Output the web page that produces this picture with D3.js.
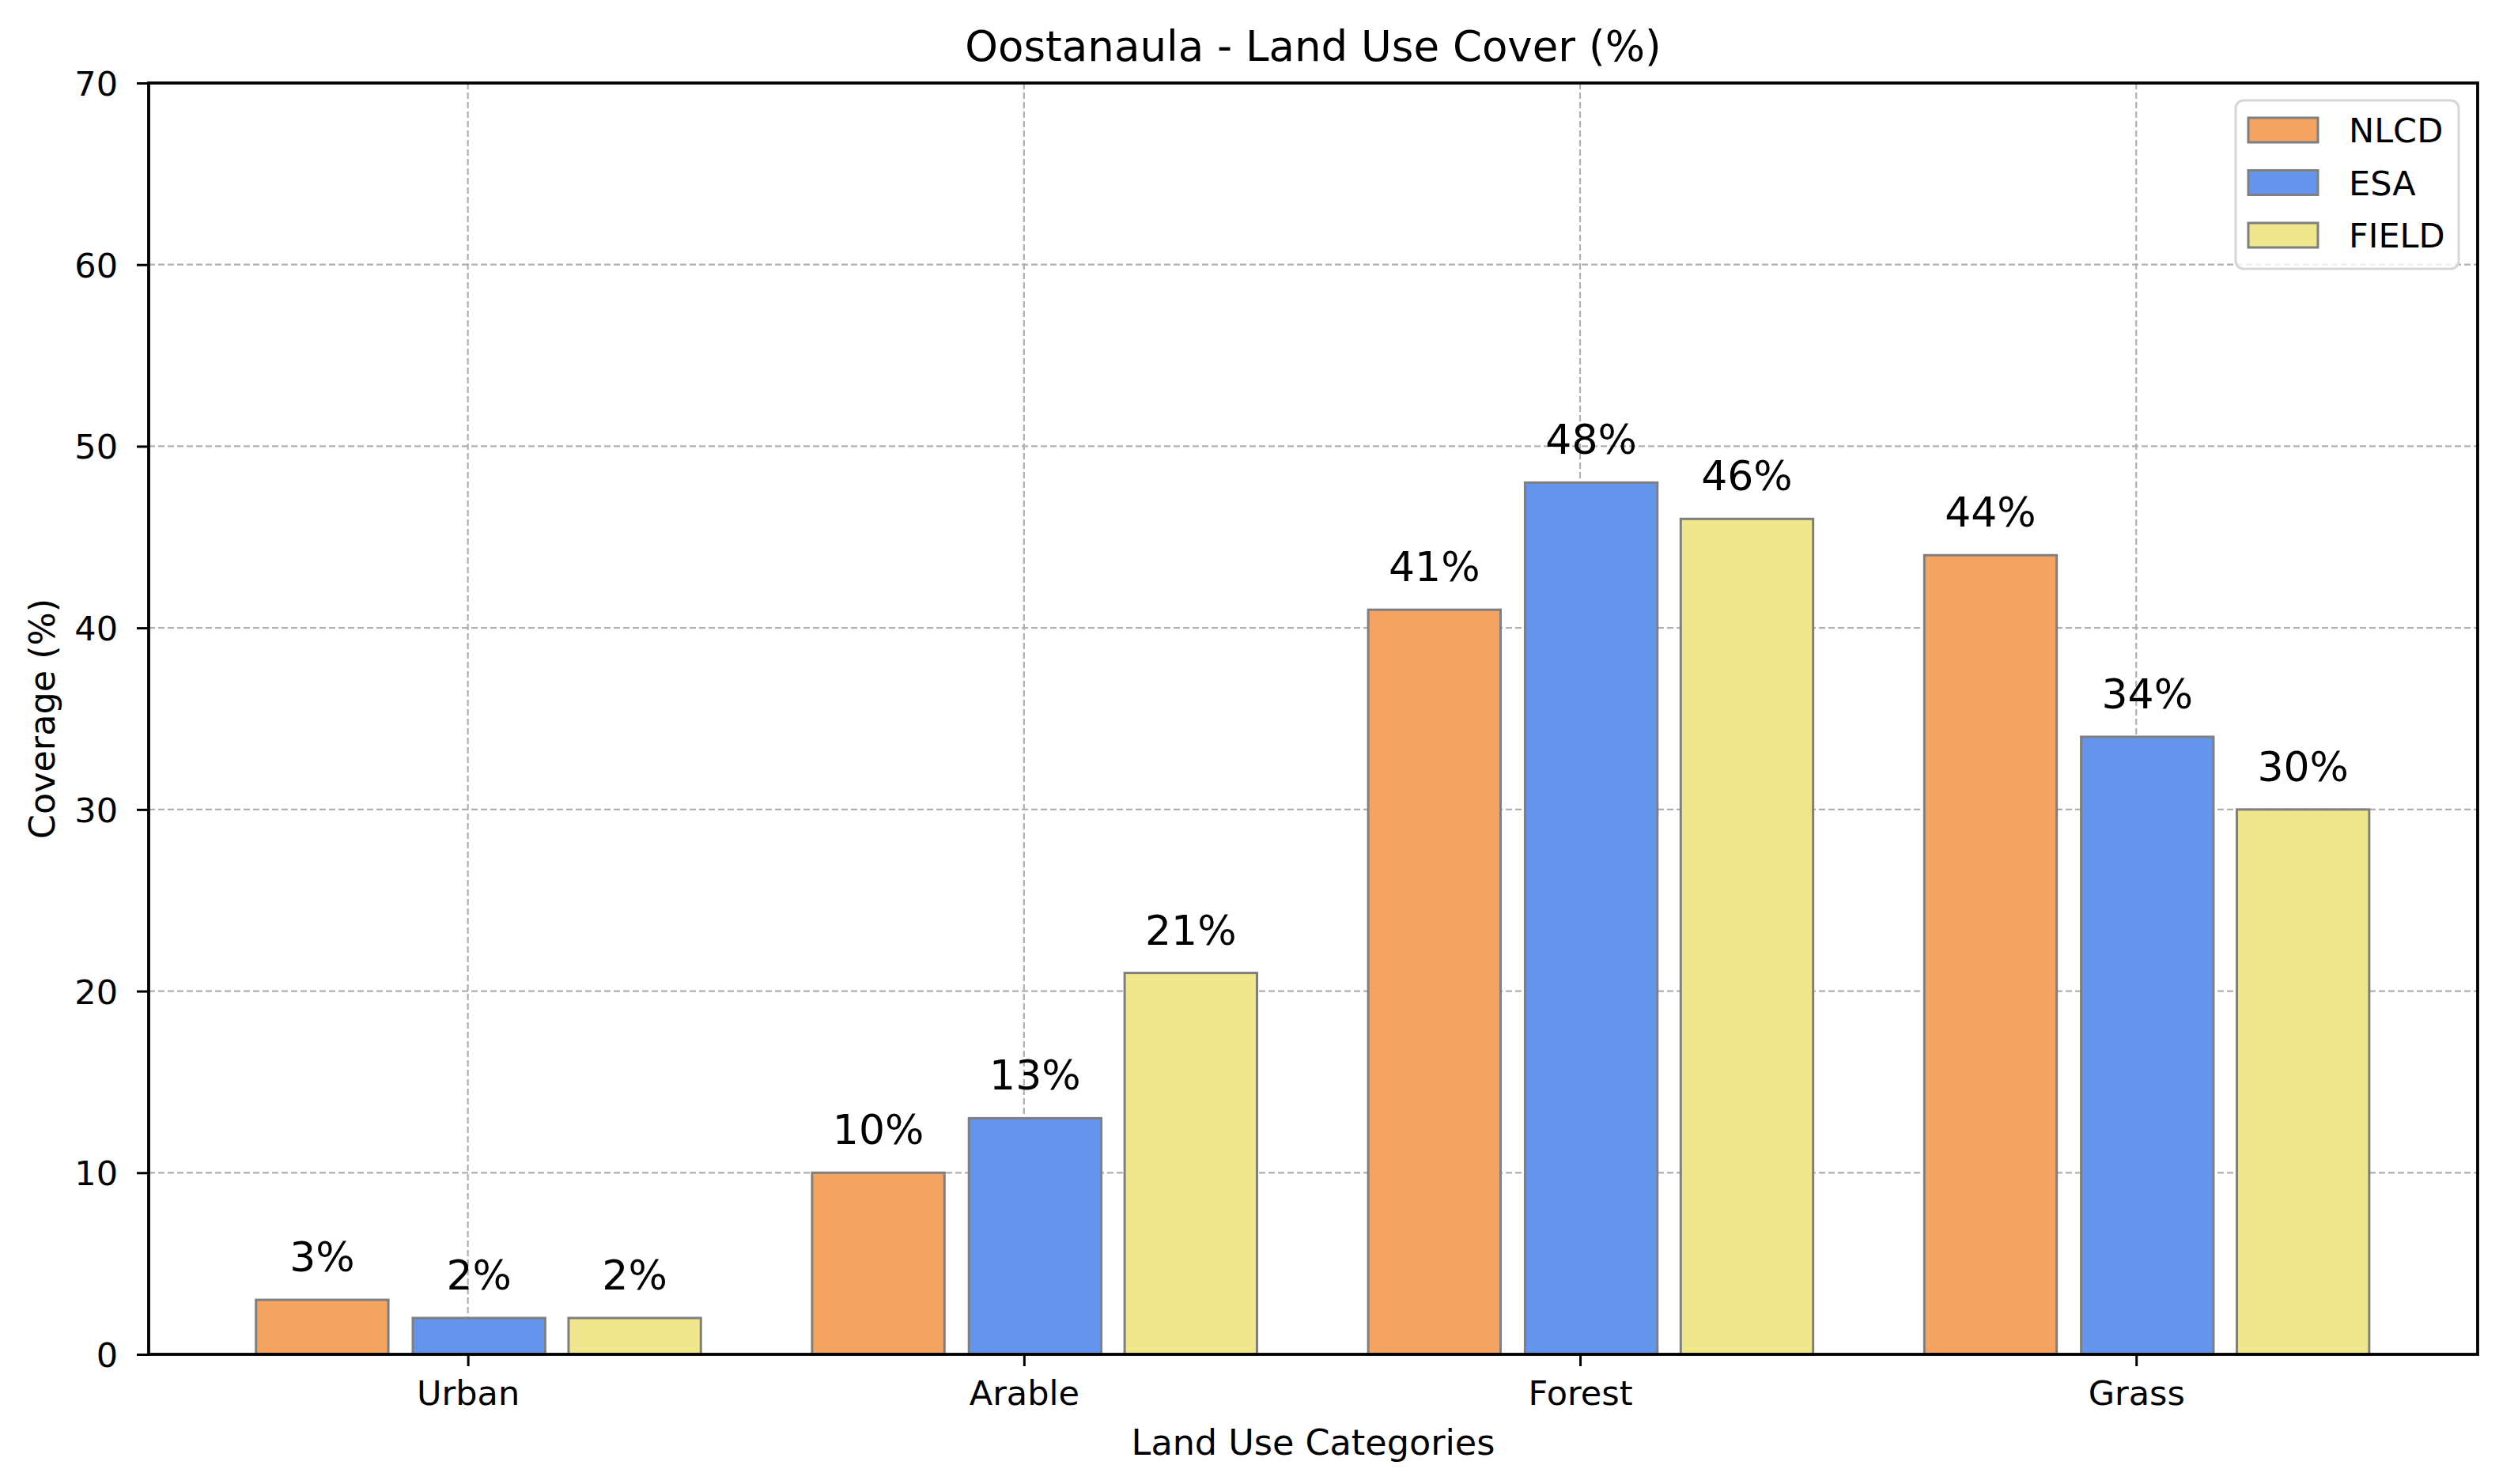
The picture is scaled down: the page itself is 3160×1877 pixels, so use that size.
<!DOCTYPE html>
<html>
<head>
<meta charset="utf-8">
<script src="https://cdn.jsdelivr.net/npm/d3@7"></script>
<style>
  html, body { margin: 0; padding: 0; background: #ffffff; }
  svg { display: block; font-family: "DejaVu Sans", sans-serif; }
</style>
</head>
<body>
<svg id="chart" width="3160" height="1877"></svg>
<script>
// ---- data ----
const categories = ["Urban", "Arable", "Forest", "Grass"];
const seriesNames = ["NLCD", "ESA", "FIELD"];
const nlcdValues = [3, 10, 41, 44];
const esaValues = [2, 13, 48, 34];
const fieldValues = [2, 21, 46, 30];
const yTicks = [0, 10, 20, 30, 40, 50, 60, 70];
const titleText = "Oostanaula - Land Use Cover (%)";
const xLabelText = "Land Use Categories";
const yLabelText = "Coverage (%)";

// ---- styles / layout ----
const colors = ["#F4A460", "#6495ED", "#F0E68C"];
const seriesOffsets = [-0.262, 0.020, 0.300];
const barWidth = 0.238;
const plot = { left: 188, right: 3133, top: 105, bottom: 1713 };

const svg = d3.select("#chart");
const x = d3.scaleLinear().domain([-0.574, 3.614]).range([plot.left, plot.right]);
const y = d3.scaleLinear().domain([0, 70]).range([plot.bottom, plot.top]);

const seriesValues = [nlcdValues, esaValues, fieldValues];
const series = seriesNames.map((name, s) => ({ name, values: seriesValues[s], color: colors[s], offset: seriesOffsets[s] }));

// white background
svg.append("rect").attr("x", 0).attr("y", 0).attr("width", 3160).attr("height", 1877).attr("fill", "#fff");

// grid
const grid = svg.append("g").attr("class", "grid");
grid.selectAll("line.h").data(yTicks.filter(t => t > 0 && t < 70)).enter().append("line")
  .attr("x1", plot.left).attr("x2", plot.right)
  .attr("y1", d => y(d)).attr("y2", d => y(d))
  .attr("stroke", "#b0b0b0").attr("stroke-width", 2.2).attr("stroke-dasharray", "8,4");
grid.selectAll("line.v").data(categories).enter().append("line")
  .attr("x1", (d, i) => x(i)).attr("x2", (d, i) => x(i))
  .attr("y1", plot.top).attr("y2", plot.bottom)
  .attr("stroke", "#b0b0b0").attr("stroke-width", 2.2).attr("stroke-dasharray", "8,4");

// bars
const barsG = svg.append("g").attr("class", "bars");
series.forEach(s => {
  const g = barsG.append("g");
  g.selectAll("rect").data(s.values).enter().append("rect")
    .attr("x", (d, i) => x(i + s.offset - barWidth / 2))
    .attr("width", x(barWidth) - x(0))
    .attr("y", d => y(d))
    .attr("height", d => y(0) - y(d))
    .attr("fill", s.color)
    .attr("stroke", "#7f7f7f")
    .attr("stroke-width", 3);
  g.selectAll("text").data(s.values).enter().append("text")
    .attr("x", (d, i) => x(i + s.offset))
    .attr("y", d => y(d) - 36)
    .attr("text-anchor", "middle")
    .attr("font-size", 52)
    .attr("fill", "#000")
    .text(d => d + "%");
});

// axes
const xAxis = d3.axisBottom(x).tickValues(d3.range(categories.length))
  .tickFormat(i => categories[i]).tickSize(15).tickPadding(12);
const yAxis = d3.axisLeft(y).tickValues(yTicks).tickSize(15).tickPadding(24);

const gx = svg.append("g").attr("transform", `translate(0,${plot.bottom})`).call(xAxis);
gx.select(".domain").remove();
gx.selectAll(".tick line").attr("stroke", "#000").attr("stroke-width", 3);
gx.selectAll(".tick text").attr("font-size", 43).attr("fill", "#000")
  .attr("font-family", "DejaVu Sans").attr("y", null).attr("dy", null)
  .attr("transform", "translate(0,64)");

const gy = svg.append("g").attr("transform", `translate(${plot.left},0)`).call(yAxis);
gy.select(".domain").remove();
gy.selectAll(".tick line").attr("stroke", "#000").attr("stroke-width", 3);
gy.selectAll(".tick text").attr("font-size", 43).attr("fill", "#000")
  .attr("font-family", "DejaVu Sans").attr("dy", "0.36em");

// spines
svg.append("rect").attr("x", plot.left).attr("y", plot.top)
  .attr("width", plot.right - plot.left).attr("height", plot.bottom - plot.top)
  .attr("fill", "none").attr("stroke", "#000").attr("stroke-width", 3.8);

// title and labels
svg.append("text").attr("x", (plot.left + plot.right) / 2).attr("y", 77)
  .attr("text-anchor", "middle").attr("font-size", 53).attr("fill", "#000").text(titleText);
svg.append("text").attr("x", (plot.left + plot.right) / 2).attr("y", 1840)
  .attr("text-anchor", "middle").attr("font-size", 44.5).attr("fill", "#000").text(xLabelText);
svg.append("text").attr("transform", `translate(69,${(plot.top + plot.bottom) / 2}) rotate(-90)`)
  .attr("text-anchor", "middle").attr("font-size", 44.5).attr("fill", "#000").text(yLabelText);

// legend
const legend = svg.append("g").attr("class", "legend");
legend.append("rect").attr("x", 2827).attr("y", 127).attr("width", 282).attr("height", 213)
  .attr("rx", 10).attr("ry", 10)
  .attr("fill", "#fff").attr("fill-opacity", 0.8)
  .attr("stroke", "#d6d6d6").attr("stroke-width", 3);
const items = legend.selectAll("g.item").data(series).enter().append("g")
  .attr("transform", (d, i) => `translate(0,${165 + i * 66.5})`);
items.append("rect").attr("x", 2843).attr("y", -16).attr("width", 88).attr("height", 31)
  .attr("fill", d => d.color).attr("stroke", "#7f7f7f").attr("stroke-width", 3);
items.append("text").attr("x", 2970).attr("y", 15).attr("font-size", 43).attr("fill", "#000")
  .text(d => d.name);
</script>
</body>
</html>
